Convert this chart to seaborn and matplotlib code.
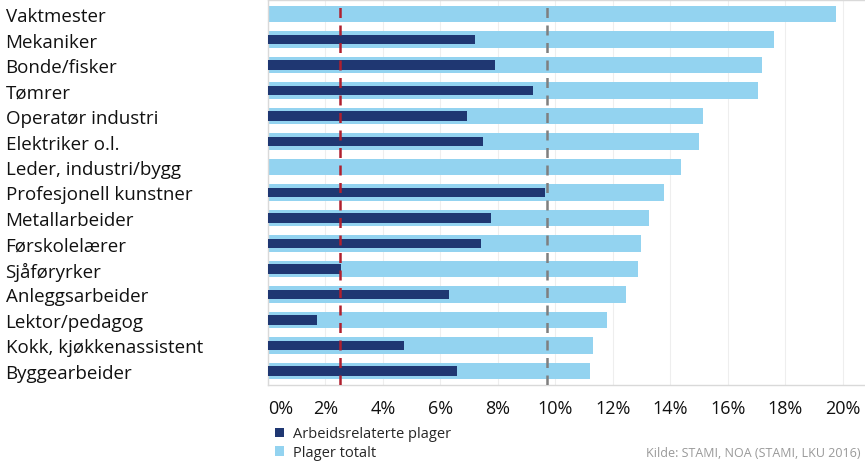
import matplotlib
matplotlib.use("Agg")
import matplotlib.pyplot as plt
import seaborn as sns
import pandas as pd
from matplotlib.patches import Patch

categories = ["Vaktmester", "Mekaniker", "Bonde/fisker", "Tømrer", "Operatør industri",
              "Elektriker o.l.", "Leder, industri/bygg", "Profesjonell kunstner",
              "Metallarbeider", "Førskolelærer", "Sjåføryrker", "Anleggsarbeider",
              "Lektor/pedagog", "Kokk, kjøkkenassistent", "Byggearbeider"]
plager_totalt = [19.76, 17.6, 17.2, 17.04, 15.13, 14.99, 14.37, 13.77, 13.25, 12.97,
                 12.87, 12.45, 11.79, 11.3, 11.2]
arbeidsrelaterte = [0, 7.2, 7.9, 9.22, 6.92, 7.48, 0, 9.63, 7.76, 7.41, 2.54, 6.3,
                    1.7, 4.73, 6.57]
ref_arbeid = 2.5
ref_totalt = 9.7
xticks = [0, 2, 4, 6, 8, 10, 12, 14, 16, 18, 20]
xticklabels = ["0%", "2%", "4%", "6%", "8%", "10%", "12%", "14%", "16%", "18%", "20%"]
series_names = ["Arbeidsrelaterte plager", "Plager totalt"]
source = "Kilde: STAMI, NOA (STAMI, LKU 2016)"

LIGHT = "#93D3F0"
DARK = "#1F3772"

sns.set_theme(style="white")
plt.rcParams["font.family"] = ["Open Sans", "DejaVu Sans"]

df = pd.DataFrame({"kat": categories, "tot": plager_totalt, "arb": arbeidsrelaterte})

fig = plt.figure(figsize=(8.65, 4.64), dpi=100)
ax = fig.add_axes([268 / 865, 1 - 386 / 464, 1 - 268 / 865, 385 / 464])

sns.barplot(data=df, y="kat", x="tot", orient="h", color=LIGHT, width=0.66,
            saturation=1, linewidth=0, ax=ax, zorder=2)
sns.barplot(data=df, y="kat", x="arb", orient="h", color=DARK, width=0.38,
            saturation=1, linewidth=0, ax=ax, zorder=3)

ax.axvline(ref_arbeid, color="#B0202E", linestyle=(0, (4, 3)), linewidth=1.8, zorder=4)
ax.axvline(ref_totalt, color="#7F7F7F", linestyle=(0, (4, 3)), linewidth=1.8, zorder=4)

ax.set_xlim(0, 20.77)
ax.set_ylim(14.55, -0.55)
ax.set_xticks(xticks)
ax.set_xticklabels(xticklabels, fontsize=13, color="#111111")
ax.xaxis.grid(True, color="#EEEEEE", linewidth=0.8, zorder=0)
ax.set_axisbelow(True)
ax.set_xlabel("")
ax.set_ylabel("")
ax.tick_params(axis="x", length=0, pad=10)
ax.tick_params(axis="y", length=0, pad=189)
for lab in ax.get_yticklabels():
    lab.set_horizontalalignment("left")
    lab.set_fontsize(13.5)
    lab.set_color("#111111")
xl = ax.get_xticklabels()
xl[0].set_horizontalalignment("left")

ax.spines["right"].set_visible(False)
for s in ["left", "bottom", "top"]:
    ax.spines[s].set_color("#D9D9D9")
    ax.spines[s].set_linewidth(1)

handles = [Patch(facecolor=DARK, edgecolor="none"), Patch(facecolor=LIGHT, edgecolor="none")]
fig.legend(handles, series_names, loc="lower left", bbox_to_anchor=(262 / 865, -0.022),
           frameon=False, fontsize=10.5, handlelength=0.6, handleheight=0.6,
           handletextpad=0.6, labelspacing=0.25)
fig.text(0.995, 0.008, source, ha="right", va="bottom", fontsize=9, color="#999999")

fig.savefig("out.png", dpi=100)
